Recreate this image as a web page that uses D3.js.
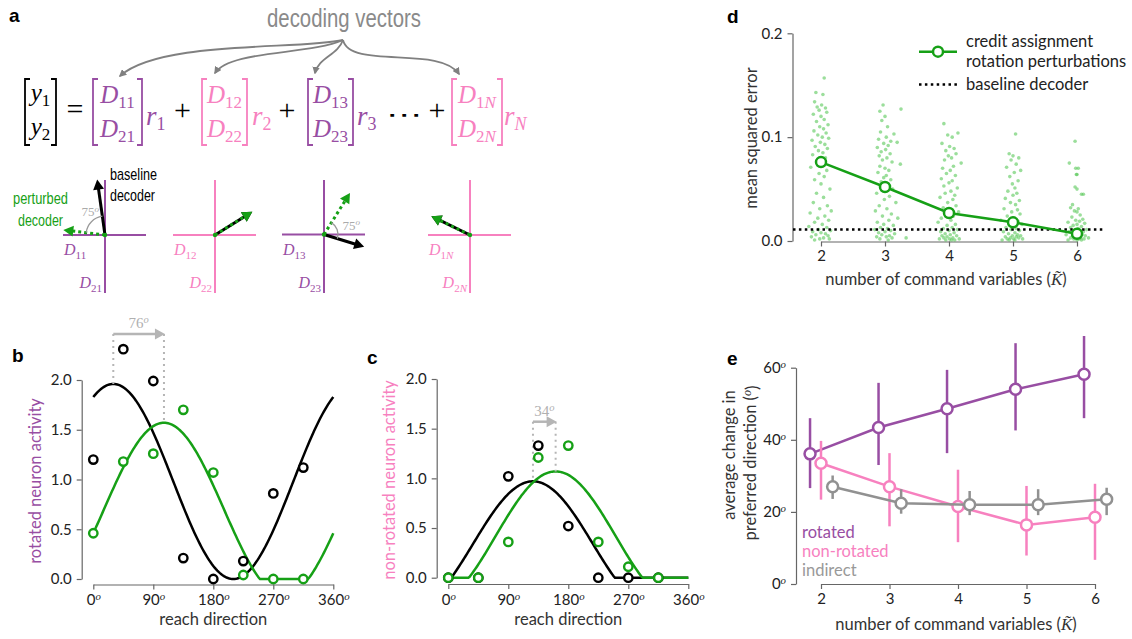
<!DOCTYPE html>
<html>
<head>
<meta charset="utf-8">
<script src="https://cdn.jsdelivr.net/npm/d3@7"></script>
<style>
  body { margin: 0; background: #fff; }
  svg { display: block; }
</style>
</head>
<body>
<svg id="fig" width="1132" height="639"></svg>
<script>
// ---------------- data ----------------
// panels b and c: reach directions and neuron activity
const directions = [0, 45, 90, 135, 180, 225, 270, 315];
const rotBaselineAct = [1.20, 2.31, 1.99, 0.21, 0.00, 0.18, 0.86, 1.12];
const rotPerturbAct  = [0.46, 1.18, 1.26, 1.70, 1.07, 0.04, 0.00, 0.00];
const nonBaselineAct = [0.00, 0.00, 1.02, 1.33, 0.52, 0.00, 0.00, 0.00];
const nonPerturbAct  = [0.00, 0.00, 0.36, 1.21, 1.33, 0.36, 0.11, 0.00];
// cosine tuning fits: [offset, gain, preferred direction in degrees]
const rotBaselineFit = [0.98, 0.98, 30];
const rotPerturbFit  = [0.70, 0.87, 106];
const nonBaselineFit = [0.339, 0.631, 127];
const nonPerturbFit  = [0.419, 0.651, 161];
const degreeTicks = [0, 90, 180, 270, 360];
const activityTicks = [0, 0.5, 1, 1.5, 2];

// panel d: mean squared error per number of command variables
const kValues = [2, 3, 4, 5, 6];
const mseMean = [0.076, 0.052, 0.027, 0.018, 0.007];
const mseBaseline = 0.011;
const mseTicks = [0, 0.1, 0.2];
// individual perturbations: [jitter in K units, mse]
const mseK2 = [[0.05,0.157],[-0.08,0.143],[0.03,0.141],[-0.1,0.134],[0.01,0.131],[-0.06,0.129],[0.07,0.128],[-0.03,0.126],[0.09,0.124],[-0.12,0.122],[0.0,0.12],[0.05,0.117],[-0.07,0.115],[0.11,0.112],[-0.02,0.11],[0.04,0.108],[-0.11,0.106],[0.08,0.104],[-0.05,0.102],[0.02,0.1],[0.12,0.099],[-0.14,0.097],[-0.01,0.095],[0.06,0.093],[-0.09,0.091],[0.1,0.089],[-0.04,0.087],[0.03,0.085],[-0.13,0.083],[0.07,0.08],[-0.06,0.077],[0.01,0.074],[-0.16,0.071],[0.09,0.068],[-0.03,0.065],[0.05,0.062],[-0.1,0.059],[0.0,0.055],[0.14,0.05],[-0.07,0.046],[0.04,0.042],[-0.12,0.037],[0.1,0.034],[-0.02,0.031],[0.16,0.029],[-0.17,0.027],[0.06,0.024],[-0.05,0.022],[0.12,0.02],[-0.1,0.018],[0.02,0.016],[-0.19,0.014],[0.09,0.013],[-0.04,0.011],[0.15,0.01],[-0.13,0.009],[0.0,0.008],[0.07,0.007],[-0.08,0.006],[0.11,0.005],[-0.15,0.004],[0.04,0.003],[-0.02,0.002],[0.13,0.002],[-0.1,0.001]];
const mseK3 = [[-0.03,0.131],[0.25,0.127],[-0.08,0.125],[0.0,0.12],[-0.05,0.116],[0.04,0.11],[-0.07,0.105],[0.14,0.103],[0.02,0.1],[-0.1,0.098],[0.09,0.096],[0.19,0.095],[-0.02,0.094],[0.05,0.092],[-0.12,0.09],[0.01,0.088],[-0.06,0.086],[0.08,0.084],[-0.09,0.082],[0.03,0.08],[-0.04,0.078],[0.11,0.076],[0.24,0.074],[-0.08,0.072],[0.0,0.07],[0.06,0.068],[-0.11,0.066],[0.02,0.063],[-0.02,0.061],[0.09,0.059],[-0.06,0.057],[0.04,0.055],[0.12,0.05],[-0.13,0.046],[0.07,0.043],[-0.01,0.04],[0.17,0.037],[-0.09,0.034],[0.03,0.031],[-0.15,0.029],[0.1,0.026],[-0.04,0.024],[0.2,0.022],[0.06,0.02],[-0.12,0.018],[-0.02,0.016],[0.13,0.015],[-0.07,0.013],[0.04,0.012],[-0.16,0.011],[0.09,0.01],[0.0,0.009],[-0.1,0.008],[0.15,0.007],[-0.05,0.006],[0.07,0.005],[-0.13,0.004],[0.02,0.004],[0.11,0.003],[-0.08,0.002],[0.05,0.001],[0.33,0.003]];
const mseK4 = [[-0.08,0.113],[0.14,0.104],[-0.02,0.102],[0.05,0.1],[-0.11,0.094],[0.01,0.091],[0.08,0.089],[-0.05,0.087],[0.11,0.084],[-0.01,0.082],[0.04,0.08],[-0.07,0.078],[0.19,0.075],[0.07,0.072],[-0.1,0.07],[0.02,0.068],[-0.04,0.065],[0.1,0.063],[-0.12,0.06],[0.05,0.058],[0.0,0.056],[-0.08,0.053],[0.13,0.051],[0.03,0.048],[-0.06,0.046],[0.09,0.044],[-0.14,0.042],[0.06,0.04],[-0.02,0.037],[0.11,0.034],[-0.09,0.032],[0.01,0.03],[0.15,0.028],[-0.05,0.026],[0.07,0.024],[-0.12,0.022],[0.03,0.02],[-0.17,0.018],[0.1,0.016],[-0.03,0.015],[0.05,0.013],[-0.09,0.012],[0.13,0.011],[0.0,0.01],[-0.13,0.009],[0.08,0.008],[-0.06,0.007],[0.02,0.006],[-0.11,0.005],[0.12,0.005],[-0.03,0.004],[0.06,0.003],[-0.08,0.003],[0.01,0.002],[0.16,0.002],[-0.15,0.002],[0.04,0.001],[-0.05,0.001],[0.09,0.001]];
const mseK5 = [[0.04,0.103],[-0.06,0.084],[0.0,0.082],[0.09,0.08],[-0.03,0.078],[0.05,0.074],[-0.1,0.071],[0.12,0.068],[0.02,0.066],[-0.05,0.062],[0.08,0.058],[-0.01,0.055],[0.03,0.051],[-0.08,0.048],[0.06,0.046],[0.0,0.044],[-0.12,0.041],[0.1,0.039],[-0.04,0.037],[0.04,0.035],[-0.14,0.031],[0.07,0.03],[-0.02,0.028],[0.11,0.026],[-0.09,0.024],[0.02,0.022],[-0.19,0.02],[0.08,0.019],[-0.05,0.017],[0.14,0.016],[0.0,0.014],[-0.11,0.013],[0.05,0.012],[-0.03,0.011],[0.1,0.01],[-0.15,0.009],[0.03,0.008],[-0.07,0.007],[0.07,0.006],[-0.01,0.005],[0.12,0.005],[-0.12,0.004],[0.05,0.004],[-0.04,0.003],[0.09,0.003],[-0.09,0.002],[0.01,0.002],[0.15,0.002],[-0.06,0.001],[0.03,0.001],[-0.17,0.001]];
const mseK6 = [[-0.03,0.096],[-0.12,0.075],[-0.02,0.07],[0.02,0.07],[-0.01,0.064],[0.0,0.064],[-0.03,0.052],[0.0,0.05],[0.07,0.045],[0.1,0.045],[-0.07,0.035],[-0.1,0.032],[0.02,0.031],[-0.04,0.029],[0.0,0.028],[0.05,0.025],[-0.08,0.023],[0.09,0.021],[-0.02,0.02],[0.04,0.019],[-0.14,0.018],[0.12,0.017],[0.0,0.016],[-0.06,0.015],[0.07,0.014],[-0.1,0.013],[0.02,0.012],[0.15,0.011],[-0.04,0.01],[0.1,0.009],[-0.12,0.009],[0.05,0.008],[-0.01,0.007],[-0.17,0.006],[0.08,0.006],[0.13,0.005],[-0.07,0.005],[0.01,0.004],[-0.03,0.004],[0.06,0.003],[-0.1,0.003],[0.18,0.003],[0.03,0.002],[-0.05,0.002],[0.11,0.002],[-0.14,0.001],[0.0,0.001],[0.07,0.001]];
const msePerK = [mseK2, mseK3, mseK4, mseK5, mseK6];

// panel e: change in preferred direction (degrees), mean and error range
const pdTicks = [0, 20, 40, 60];
const rotMean = [36.1, 43.4, 48.6, 54.0, 58.2];
const rotLo   = [26.6, 33.0, 36.3, 42.6, 46.0];
const rotHi   = [46.0, 55.8, 59.4, 66.8, 68.8];
const nonMean = [33.5, 27.0, 21.5, 16.4, 18.5];
const nonLo   = [23.4, 16.0, 11.6, 7.9, 6.7];
const nonHi   = [39.7, 36.3, 31.7, 27.2, 27.8];
const indMean = [27.0, 22.4, 22.0, 22.0, 23.5];
const indLo   = [23.6, 19.5, 19.1, 19.1, 19.1];
const indHi   = [30.1, 26.3, 25.8, 26.3, 26.7];

// panel a: schematic decoding vectors (angle in degrees, length in px)
const baselineAngle = [98, 32, -17, 154];
const rotationAngle = [75, 0, 75, 0];
const baselineLen = [56, 44, 42, 43];
const perturbLen = [42, 44, 49, 43];

// ---------------- style ----------------
const PURPLE = "#984ea3", PINK = "#f781bf";
const GREEN = "#16a016", LIGHTGREEN = "#58c858";
const SANS = "Lato, 'Open Sans', sans-serif";
const SERIF = "'Liberation Serif', 'DejaVu Serif', serif";
const AXIS = "#666";
const TICK_FS = 15, LABEL_FS = 16.5;

const svg = d3.select("#fig");

svg.append("defs").append("marker")
  .attr("id", "grayhead").attr("viewBox", "0 0 10 10")
  .attr("refX", 8).attr("refY", 5).attr("markerWidth", 4.2).attr("markerHeight", 4.2)
  .attr("markerUnits", "strokeWidth").attr("orient", "auto")
  .append("path").attr("d", "M0,0L10,5L0,10z").attr("fill", "#808080");

function panelLabel(t, x, y) {
  svg.append("text").attr("x", x).attr("y", y).text(t)
    .attr("font-family", "'Liberation Sans', Arial, sans-serif")
    .attr("font-weight", "bold").attr("font-size", 19).attr("fill", "#000");
}

function styleAxis(g) {
  g.attr("font-family", SANS).attr("font-size", TICK_FS);
  g.select(".domain").attr("stroke", AXIS).attr("stroke-width", 1.2);
  g.selectAll(".tick line").attr("stroke", AXIS).attr("stroke-width", 1.2);
  g.selectAll(".tick text").attr("fill", "#222");
}

// tick text as number with a raised "o" (degree mark)
function degreeText(g) {
  g.selectAll(".tick text").each(function (d) {
    const t = d3.select(this);
    t.text("");
    t.append("tspan").text(d);
    t.append("tspan").attr("dy", "-0.45em").attr("font-size", "0.72em")
      .attr("font-family", SERIF).attr("font-style", "italic").text("o");
  });
}

function degreeLabel(parent, x, y, value, color, size) {
  const t = parent.append("text").attr("x", x).attr("y", y)
    .attr("text-anchor", "middle").attr("font-family", SERIF)
    .attr("font-size", size).attr("fill", color);
  t.append("tspan").text(value);
  t.append("tspan").attr("dy", "-0.45em").attr("font-size", "0.7em")
    .attr("font-style", "italic").text("o");
  return t;
}

// ---------------- panel a ----------------
panelLabel("a", 9, 22);

svg.append("text").attr("x", 267).attr("y", 27).text("decoding vectors")
  .attr("font-family", "'Liberation Sans', Arial, sans-serif").attr("font-size", 25)
  .attr("fill", "#8a8a8a").attr("textLength", 154).attr("lengthAdjust", "spacingAndGlyphs");

const arrowPaths = [
  "M343,40 C300,50 160,40 120,76",
  "M343,40 C310,55 230,50 215,73",
  "M343,40 C338,55 318,58 315,73",
  "M343,40 C350,70 440,45 459,74"
];
svg.append("g").selectAll("path").data(arrowPaths).join("path")
  .attr("d", d => d).attr("fill", "none").attr("stroke", "#808080")
  .attr("stroke-width", 1.8).attr("marker-end", "url(#grayhead)");

// column vectors of the decoder equation
function bracketVector(left, right, color, rows) {
  const top = 79, bottom = 145, serif = 5;
  const g = svg.append("g");
  g.append("path").attr("d", `M${left + serif},${top}H${left}V${bottom}H${left + serif}`)
    .attr("fill", "none").attr("stroke", color).attr("stroke-width", 1.8);
  g.append("path").attr("d", `M${right - serif},${top}H${right}V${bottom}H${right - serif}`)
    .attr("fill", "none").attr("stroke", color).attr("stroke-width", 1.8);
  rows.forEach(r => {
    const t = g.append("text").attr("x", (left + right) / 2).attr("y", r.y)
      .attr("text-anchor", "middle").attr("font-family", SERIF).attr("fill", color);
    t.append("tspan").attr("font-style", "italic").attr("font-size", 25).text(r.main);
    t.append("tspan").attr("font-size", 17).attr("dy", 5).text(r.sub[0]);
    if (r.sub.length > 1) t.append("tspan").attr("font-size", 17).attr("font-style", "italic").text(r.sub[1]);
  });
}
function mathText(x, y, txt, color, size) {
  return svg.append("text").attr("x", x).attr("y", y).attr("text-anchor", "middle")
    .attr("font-family", SERIF).attr("font-size", size).attr("fill", color).text(txt);
}
function rTerm(x, color, sub, subItalic) {
  const t = svg.append("text").attr("x", x).attr("y", 125).attr("font-family", SERIF).attr("fill", color);
  t.append("tspan").attr("font-style", "italic").attr("font-size", 27).text("r");
  t.append("tspan").attr("font-size", 18).attr("dy", 5).attr("font-style", subItalic ? "italic" : "normal").text(sub);
}

bracketVector(25, 56, "#000", [{y: 101, main: "y", sub: ["1"]}, {y: 135, main: "y", sub: ["2"]}]);
mathText(75, 119, "=", "#000", 30);
bracketVector(93, 142, PURPLE, [{y: 103, main: "D", sub: ["11"]}, {y: 137, main: "D", sub: ["21"]}]);
rTerm(146, PURPLE, "1", false);
mathText(182.5, 120, "+", "#000", 30);
bracketVector(202, 247, PINK, [{y: 103, main: "D", sub: ["12"]}, {y: 137, main: "D", sub: ["22"]}]);
rTerm(252, PINK, "2", false);
mathText(287, 120, "+", "#000", 30);
bracketVector(308, 353, PURPLE, [{y: 103, main: "D", sub: ["13"]}, {y: 137, main: "D", sub: ["23"]}]);
rTerm(357, PURPLE, "3", false);
svg.append("text").attr("x", 404).attr("y", 122).attr("text-anchor", "middle")
  .attr("font-family", "'DejaVu Sans', sans-serif").attr("font-size", 22).attr("fill", "#000")
  .attr("textLength", 36).attr("lengthAdjust", "spacingAndGlyphs").text("\u22EF");
mathText(437, 120, "+", "#000", 30);
bracketVector(452, 502, PINK, [{y: 103, main: "D", sub: ["1", "N"]}, {y: 137, main: "D", sub: ["2", "N"]}]);
rTerm(504, PINK, "N", true);

// decoder diagrams
const diagCenters = [[105, 235], [215, 235], [324, 234.5], [470, 235]];
const diagColors = [PURPLE, PINK, PURPLE, PINK];
const diagTopSub = [["11"], ["12"], ["13"], ["1", "N"]];
const diagBotSub = [["21"], ["22"], ["23"], ["2", "N"]];
const arcLabelAngle = [122, 0, 20, 0];
const rad = a => a * Math.PI / 180;

function arrowHead(g, x, y, ang, color, size) {
  const a = rad(ang), L = size, W = size * 0.55;
  const bx = x - L * Math.cos(a), by = y + L * Math.sin(a);
  const px = W * Math.sin(a), py = W * Math.cos(a);
  g.append("path").attr("d", `M${x},${y}L${bx + px},${by + py}L${bx - px},${by - py}Z`)
    .attr("fill", color);
}
function subLabel(g, x, y, sub, color, anchor) {
  const t = g.append("text").attr("x", x).attr("y", y).attr("text-anchor", anchor)
    .attr("font-family", SERIF).attr("fill", color);
  t.append("tspan").attr("font-style", "italic").attr("font-size", 16).text("D");
  t.append("tspan").attr("font-size", 11).attr("dy", 4).text(sub[0]);
  if (sub.length > 1) t.append("tspan").attr("font-size", 11).attr("font-style", "italic").text(sub[1]);
}

diagCenters.forEach(([cx, cy], i) => {
  const g = svg.append("g");
  const col = diagColors[i];
  g.append("line").attr("x1", cx - 42).attr("x2", cx + 41).attr("y1", cy).attr("y2", cy)
    .attr("stroke", col).attr("stroke-width", 2);
  g.append("line").attr("x1", cx).attr("x2", cx).attr("y1", 180).attr("y2", 293)
    .attr("stroke", col).attr("stroke-width", 2);
  subLabel(g, cx - 41, cy + 20, diagTopSub[i], col, "start");
  subLabel(g, cx - 3, 288, diagBotSub[i], col, "end");

  const ab = baselineAngle[i], ap = ab + rotationAngle[i];
  const bx = cx + baselineLen[i] * Math.cos(rad(ab)), by = cy - baselineLen[i] * Math.sin(rad(ab));
  const px = cx + perturbLen[i] * Math.cos(rad(ap)), py = cy - perturbLen[i] * Math.sin(rad(ap));
  const hb = 10;
  // baseline decoder (black)
  g.append("line").attr("x1", cx).attr("y1", cy)
    .attr("x2", bx - (hb - 2) * Math.cos(rad(ab))).attr("y2", by + (hb - 2) * Math.sin(rad(ab)))
    .attr("stroke", "#000").attr("stroke-width", 3);
  arrowHead(g, bx, by, ab, "#000", hb);
  // perturbed decoder (green dotted)
  g.append("line").attr("x1", cx).attr("y1", cy)
    .attr("x2", px - (hb - 2) * Math.cos(rad(ap))).attr("y2", py + (hb - 2) * Math.sin(rad(ap)))
    .attr("stroke", GREEN).attr("stroke-width", 3).attr("stroke-dasharray", "3,3");
  arrowHead(g, px, py, ap, GREEN, hb);
  g.append("circle").attr("cx", cx).attr("cy", cy).attr("r", 2.2).attr("fill", GREEN);

  if (rotationAngle[i] !== 0) {
    const r = i === 0 ? 19 : 14;
    const arc = d3.arc().innerRadius(r).outerRadius(r)
      .startAngle(rad(90 - ap)).endAngle(rad(90 - ab));
    g.append("path").attr("d", arc()).attr("transform", `translate(${cx},${cy})`)
      .attr("fill", "none").attr("stroke", "#999").attr("stroke-width", 1.3);
    const la = rad(arcLabelAngle[i]), lr = i === 0 ? 28 : 29;
    degreeLabel(g, cx + lr * Math.cos(la), cy - lr * Math.sin(la) + 5, rotationAngle[i], "#aaa", 13);
  }
});

const tb = svg.append("g").attr("font-family", "'Liberation Sans', Arial, sans-serif").attr("font-size", 17);
tb.append("text").attr("x", 110).attr("y", 180).attr("fill", "#000").attr("textLength", 47)
  .attr("lengthAdjust", "spacingAndGlyphs").text("baseline");
tb.append("text").attr("x", 110).attr("y", 201).attr("fill", "#000").attr("textLength", 45)
  .attr("lengthAdjust", "spacingAndGlyphs").text("decoder");
tb.append("text").attr("x", 13).attr("y", 204).attr("fill", GREEN)
  .attr("textLength", 55).attr("lengthAdjust", "spacingAndGlyphs").text("perturbed");
tb.append("text").attr("x", 18).attr("y", 226).attr("fill", GREEN)
  .attr("textLength", 45).attr("lengthAdjust", "spacingAndGlyphs").text("decoder");

// ---------------- panels b and c ----------------
function tuning(fit, deg) {
  return Math.max(0, fit[0] + fit[1] * Math.cos(rad(deg - fit[2])));
}

function tuningPanel(cfg) {
  const x = d3.scaleLinear().domain([0, 360]).range(cfg.xr);
  const y = d3.scaleLinear().domain([0, 2]).range(cfg.yr);
  const g = svg.append("g");

  const ya = g.append("g").attr("transform", `translate(${cfg.yAxisX},0)`)
    .call(d3.axisLeft(y).tickValues(activityTicks).tickSize(5).tickSizeOuter(0).tickPadding(5)
      .tickFormat(d3.format(".1f")));
  styleAxis(ya);
  const xa = g.append("g").attr("transform", `translate(0,${cfg.xAxisY})`)
    .call(d3.axisBottom(x).tickValues(degreeTicks).tickSize(5).tickSizeOuter(0).tickPadding(5));
  styleAxis(xa);
  degreeText(xa);

  g.append("text").attr("x", (cfg.xr[0] + cfg.xr[1]) / 2).attr("y", 625).attr("text-anchor", "middle")
    .attr("font-family", SANS).attr("font-size", LABEL_FS).attr("fill", "#333").text("reach direction");
  g.append("text").attr("transform", `translate(${cfg.ylabX},${cfg.ylabY}) rotate(-90)`)
    .attr("text-anchor", "middle").attr("font-family", SANS).attr("font-size", LABEL_FS)
    .attr("fill", cfg.ylabColor).text(cfg.ylab);

  const sample = d3.range(0, 361, 2);
  const line = d3.line().x(d => x(d[0])).y(d => y(d[1]));
  g.append("path").datum(sample.map(d => [d, tuning(cfg.fitB, d)])).attr("d", line)
    .attr("fill", "none").attr("stroke", "#000").attr("stroke-width", 2.5);
  g.append("path").datum(sample.map(d => [d, tuning(cfg.fitP, d)])).attr("d", line)
    .attr("fill", "none").attr("stroke", GREEN).attr("stroke-width", 2.5);

  // preferred direction shift annotation
  const pb = cfg.fitB[2], pp = cfg.fitP[2];
  const ay = cfg.annY;
  [[pb, cfg.fitB], [pp, cfg.fitP]].forEach(([pd, fit]) => {
    g.append("line").attr("x1", x(pd)).attr("x2", x(pd)).attr("y1", ay).attr("y2", y(tuning(fit, pd)))
      .attr("stroke", "#b5b5b5").attr("stroke-width", 2).attr("stroke-dasharray", "2,4");
  });
  g.append("line").attr("x1", x(pb)).attr("x2", x(pp) - 8).attr("y1", ay).attr("y2", ay)
    .attr("stroke", "#b5b5b5").attr("stroke-width", 2.5);
  arrowHead(g, x(pp) + 1, ay, 0, "#b5b5b5", 10);
  degreeLabel(g, (x(pb) + x(pp)) / 2, ay - 6, Math.round(pp - pb), "#b0b0b0", 15);

  const dot = (vals, col) => g.append("g").selectAll("circle").data(directions).join("circle")
    .attr("cx", d => x(d)).attr("cy", (d, i) => y(vals[i])).attr("r", 4.2)
    .attr("fill", "#fff").attr("stroke", col).attr("stroke-width", 2.4);
  dot(cfg.ptsB, "#000");
  dot(cfg.ptsP, GREEN);
}

panelLabel("b", 12, 362);
tuningPanel({
  xr: [93.3, 333.3], yr: [579, 380], yAxisX: 81.7, xAxisY: 584.5,
  fitB: rotBaselineFit, fitP: rotPerturbFit, ptsB: rotBaselineAct, ptsP: rotPerturbAct,
  ylab: "rotated neuron activity", ylabColor: PURPLE, ylabX: 41, ylabY: 481, annY: 334
});
panelLabel("c", 367, 364);
tuningPanel({
  xr: [448.3, 688.3], yr: [577.7, 379], yAxisX: 436.7, xAxisY: 584,
  fitB: nonBaselineFit, fitP: nonPerturbFit, ptsB: nonBaselineAct, ptsP: nonPerturbAct,
  ylab: "non-rotated neuron activity", ylabColor: PINK, ylabX: 395, ylabY: 480, annY: 421.7
});

// ---------------- panel d ----------------
panelLabel("d", 727, 23);
{
  const x = d3.scaleLinear().domain([2, 6]).range([821, 1077]);
  const y = d3.scaleLinear().domain([0, 0.2]).range([241, 33.3]);
  const g = svg.append("g");
  const ya = g.append("g").attr("transform", "translate(792.5,0)")
    .call(d3.axisLeft(y).tickValues(mseTicks).tickSize(5).tickSizeOuter(0).tickPadding(5)
      .tickFormat(d3.format(".1f")));
  styleAxis(ya);
  const xa = g.append("g").attr("transform", "translate(0,241.5)")
    .call(d3.axisBottom(x).tickValues(kValues).tickSize(5).tickSizeOuter(0).tickPadding(4)
      .tickFormat(d3.format("d")));
  styleAxis(xa);

  const pts = msePerK.flatMap((arr, i) => arr.map(p => [kValues[i] + p[0], p[1]]));
  g.append("g").selectAll("circle").data(pts).join("circle")
    .attr("cx", d => x(d[0])).attr("cy", d => y(d[1])).attr("r", 1.8)
    .attr("fill", LIGHTGREEN).attr("opacity", 0.6);

  g.append("line").attr("x1", 793).attr("x2", 1105).attr("y1", y(mseBaseline)).attr("y2", y(mseBaseline))
    .attr("stroke", "#000").attr("stroke-width", 2.5).attr("stroke-dasharray", "2.5,3.4");

  g.append("path").datum(kValues.map((k, i) => [k, mseMean[i]]))
    .attr("d", d3.line().x(d => x(d[0])).y(d => y(d[1])))
    .attr("fill", "none").attr("stroke", GREEN).attr("stroke-width", 2.5);
  g.append("g").selectAll("circle").data(kValues).join("circle")
    .attr("cx", d => x(d)).attr("cy", (d, i) => y(mseMean[i])).attr("r", 5)
    .attr("fill", "#fff").attr("stroke", GREEN).attr("stroke-width", 2.5);

  // legend
  g.append("line").attr("x1", 919).attr("x2", 957).attr("y1", 51.7).attr("y2", 51.7)
    .attr("stroke", GREEN).attr("stroke-width", 2.5);
  g.append("circle").attr("cx", 938).attr("cy", 51.7).attr("r", 5)
    .attr("fill", "#fff").attr("stroke", GREEN).attr("stroke-width", 2.5);
  g.append("line").attr("x1", 919).attr("x2", 957).attr("y1", 84.5).attr("y2", 84.5)
    .attr("stroke", "#000").attr("stroke-width", 2.5).attr("stroke-dasharray", "2.5,3.4");
  const lt = g.append("g").attr("font-family", SANS).attr("font-size", LABEL_FS).attr("fill", "#222");
  lt.append("text").attr("x", 966).attr("y", 47).text("credit assignment");
  lt.append("text").attr("x", 966).attr("y", 66.5).text("rotation perturbations");
  lt.append("text").attr("x", 966).attr("y", 90).text("baseline decoder");

  g.append("text").attr("transform", "translate(757,138) rotate(-90)").attr("text-anchor", "middle")
    .attr("font-family", SANS).attr("font-size", LABEL_FS).attr("fill", "#333").text("mean squared error");
  const xl = g.append("text").attr("x", 946).attr("y", 285).attr("text-anchor", "middle")
    .attr("font-family", SANS).attr("font-size", LABEL_FS).attr("fill", "#333");
  xl.append("tspan").text("number of command variables (");
  xl.append("tspan").attr("font-family", SERIF).attr("font-style", "italic").attr("font-size", 17).text("K\u0303");
  xl.append("tspan").text(")");
}

// ---------------- panel e ----------------
panelLabel("e", 727, 365);
{
  const x = d3.scaleLinear().domain([2, 6]).range([821, 1095]);
  const y = d3.scaleLinear().domain([0, 60]).range([584, 367.7]);
  const g = svg.append("g");
  const ya = g.append("g").attr("transform", "translate(796,0)")
    .call(d3.axisLeft(y).tickValues(pdTicks).tickSize(5).tickSizeOuter(0).tickPadding(5));
  styleAxis(ya);
  degreeText(ya);
  const xa = g.append("g").attr("transform", "translate(0,584)")
    .call(d3.axisBottom(x).tickValues(kValues).tickSize(5).tickSizeOuter(0).tickPadding(4)
      .tickFormat(d3.format("d")));
  styleAxis(xa);

  const groups = [
    {mean: rotMean, lo: rotLo, hi: rotHi, color: PURPLE, off: -0.16},
    {mean: nonMean, lo: nonLo, hi: nonHi, color: PINK, off: 0},
    {mean: indMean, lo: indLo, hi: indHi, color: "#919191", off: 0.17}
  ];
  groups.forEach(s => {
    const sg = g.append("g");
    sg.selectAll("line").data(kValues).join("line")
      .attr("x1", d => x(d + s.off)).attr("x2", d => x(d + s.off))
      .attr("y1", (d, i) => y(s.lo[i])).attr("y2", (d, i) => y(s.hi[i]))
      .attr("stroke", s.color).attr("stroke-width", 2.5);
    sg.append("path").datum(kValues.map((k, i) => [k + s.off, s.mean[i]]))
      .attr("d", d3.line().x(d => x(d[0])).y(d => y(d[1])))
      .attr("fill", "none").attr("stroke", s.color).attr("stroke-width", 2.5);
    sg.selectAll("circle").data(kValues).join("circle")
      .attr("cx", d => x(d + s.off)).attr("cy", (d, i) => y(s.mean[i])).attr("r", 5.5)
      .attr("fill", "#fff").attr("stroke", s.color).attr("stroke-width", 2.5);
  });

  const lg = g.append("g").attr("font-family", SANS).attr("font-size", 16.5);
  lg.append("text").attr("x", 802).attr("y", 537.5).attr("fill", PURPLE).text("rotated");
  lg.append("text").attr("x", 802).attr("y", 556.5).attr("fill", PINK).text("non-rotated");
  lg.append("text").attr("x", 802).attr("y", 575.5).attr("fill", "#999").text("indirect");

  g.append("text").attr("transform", "translate(735,455) rotate(-90)").attr("text-anchor", "middle")
    .attr("font-family", SANS).attr("font-size", LABEL_FS).attr("fill", "#333").text("average change in");
  const yl2 = g.append("text").attr("transform", "translate(756,463) rotate(-90)").attr("text-anchor", "middle")
    .attr("font-family", SANS).attr("font-size", LABEL_FS).attr("fill", "#333");
  yl2.append("tspan").text("preferred direction (");
  yl2.append("tspan").attr("dy", "-0.4em").attr("font-family", SERIF).attr("font-style", "italic")
    .attr("font-size", 12).text("o");
  yl2.append("tspan").attr("dy", "0.4em").text(")");

  const xl = g.append("text").attr("x", 956).attr("y", 630).attr("text-anchor", "middle")
    .attr("font-family", SANS).attr("font-size", LABEL_FS).attr("fill", "#333");
  xl.append("tspan").text("number of command variables (");
  xl.append("tspan").attr("font-family", SERIF).attr("font-style", "italic").attr("font-size", 17).text("K\u0303");
  xl.append("tspan").text(")");
}
</script>
</body>
</html>
